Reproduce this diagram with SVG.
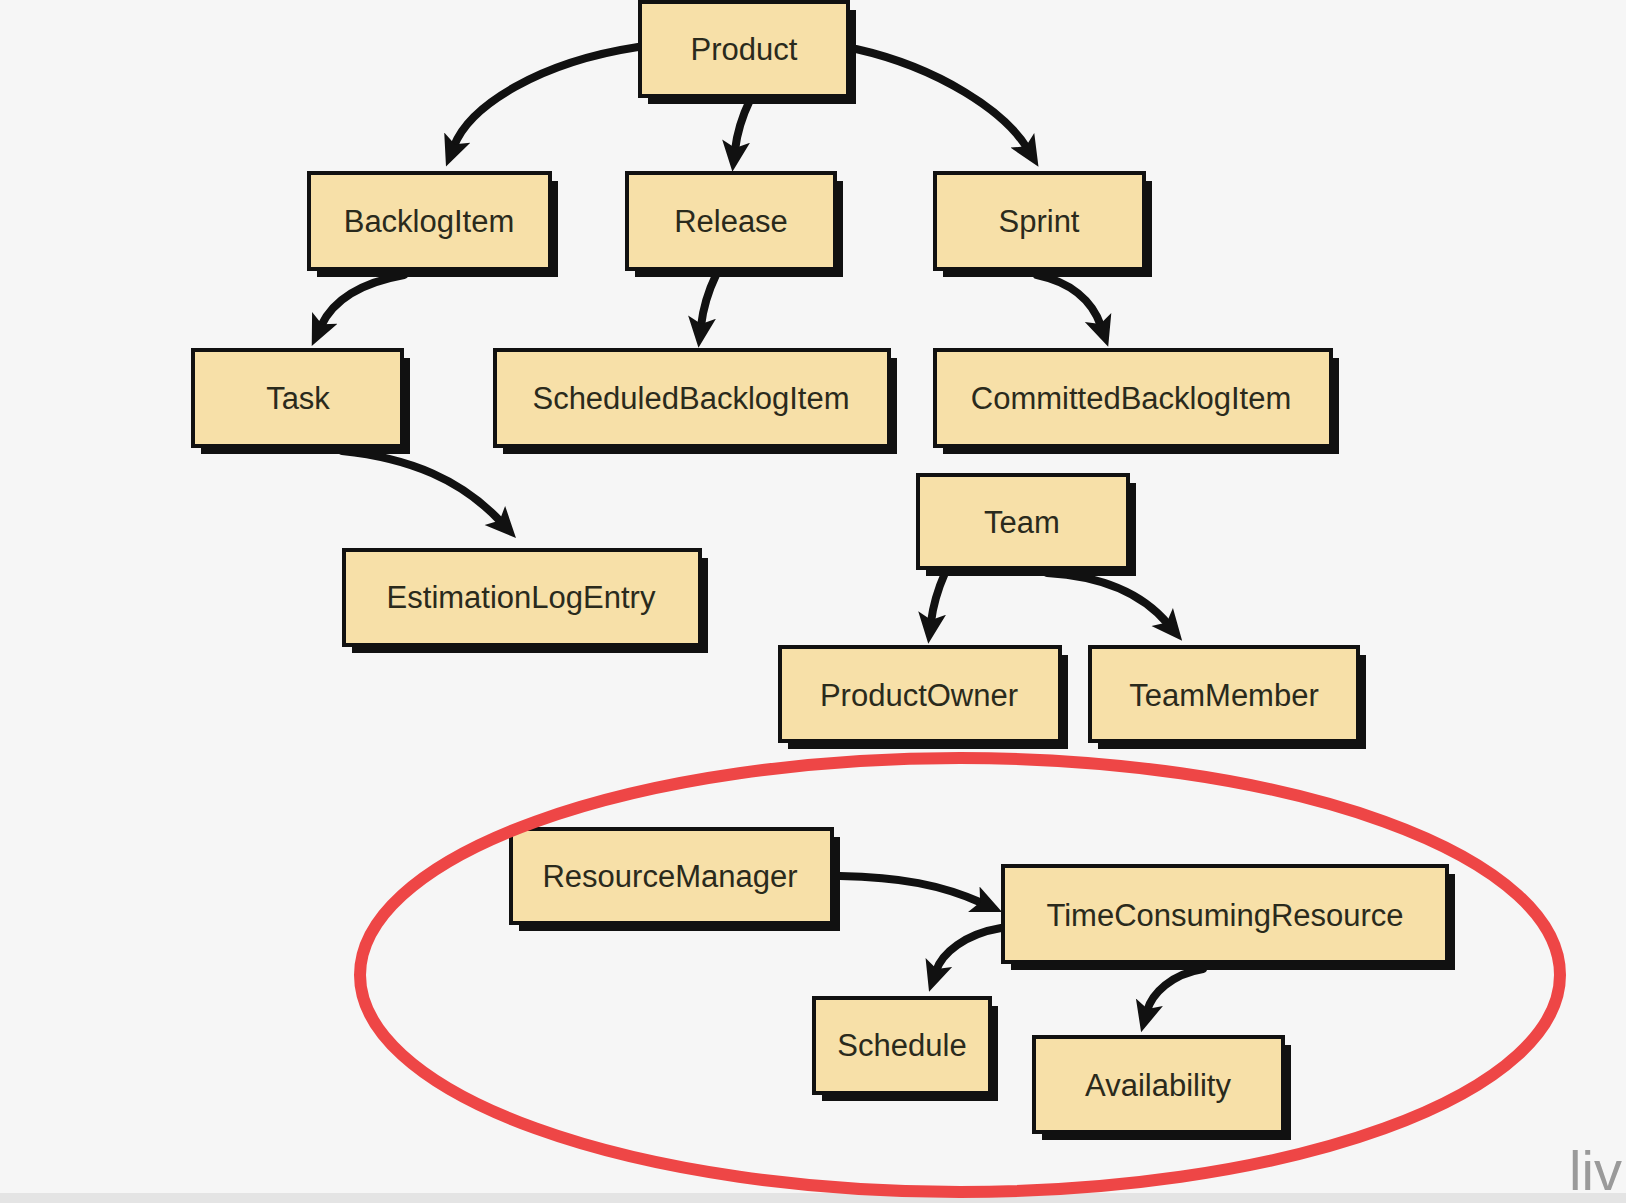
<svg xmlns="http://www.w3.org/2000/svg" width="1626" height="1203" viewBox="0 0 1626 1203">
<defs>
<style>
.sh{fill:#111}
.bx{fill:#f7e0a8;stroke:#111;stroke-width:4}
.t{font-family:"Liberation Sans",Arial,sans-serif;font-size:31px;fill:#2a2a1c;text-anchor:middle;dominant-baseline:central}
.c{fill:none;stroke:#111;stroke-width:8;stroke-linecap:round}
</style>
<marker id="ah" viewBox="0 0 32 32" refX="9" refY="16" markerWidth="32" markerHeight="32" markerUnits="userSpaceOnUse" orient="auto">
<path d="M0,2 L31,16 L0,30 L7,16 Z" fill="#111"/>
</marker>
</defs>
<rect x="0" y="0" width="1626" height="1203" fill="#f6f6f6"/>
<rect x="0" y="1193" width="1626" height="10" fill="#e4e4e4"/>

<g id="connectors">
<path class="c" marker-end="url(#ah)" d="M638 47 C540 62 470 105 454 146"/>
<path class="c" marker-end="url(#ah)" d="M750 100 Q738 125 735 150"/>
<path class="c" marker-end="url(#ah)" d="M856 49 C940 68 1005 112 1027 148"/>
<path class="c" marker-end="url(#ah)" d="M404 275 C365 282 334 298 321 326"/>
<path class="c" marker-end="url(#ah)" d="M716 275 Q704 300 701 326"/>
<path class="c" marker-end="url(#ah)" d="M1037 275 C1070 282 1092 300 1101 326"/>
<path class="c" marker-end="url(#ah)" d="M342 451 C410 458 462 480 501 522"/>
<path class="c" marker-end="url(#ah)" d="M945 573 Q934 598 931 622"/>
<path class="c" marker-end="url(#ah)" d="M1047 573 C1100 576 1142 593 1168 624"/>
<path class="c" marker-end="url(#ah)" d="M840 876 C900 877 942 885 982 903"/>
<path class="c" marker-end="url(#ah)" d="M1001 928 C965 934 942 953 936 971"/>
<path class="c" marker-end="url(#ah)" d="M1203 969 C1172 974 1152 993 1147 1011"/>
</g>

<g id="n-product"><rect class="sh" x="648" y="10" width="208" height="94"/><rect class="bx" x="640" y="2" width="208" height="94"/><text class="t" x="744" y="49">Product</text></g>
<g id="n-backlogitem"><rect class="sh" x="317" y="181" width="241" height="96"/><rect class="bx" x="309" y="173" width="241" height="96"/><text class="t" x="429" y="221">BacklogItem</text></g>
<g id="n-release"><rect class="sh" x="635" y="181" width="208" height="96"/><rect class="bx" x="627" y="173" width="208" height="96"/><text class="t" x="731" y="221">Release</text></g>
<g id="n-sprint"><rect class="sh" x="943" y="181" width="209" height="96"/><rect class="bx" x="935" y="173" width="209" height="96"/><text class="t" x="1039" y="221">Sprint</text></g>
<g id="n-task"><rect class="sh" x="201" y="358" width="209" height="96"/><rect class="bx" x="193" y="350" width="209" height="96"/><text class="t" x="298" y="398">Task</text></g>
<g id="n-scheduledbacklogitem"><rect class="sh" x="503" y="358" width="394" height="96"/><rect class="bx" x="495" y="350" width="394" height="96"/><text class="t" x="691" y="398">ScheduledBacklogItem</text></g>
<g id="n-committedbacklogitem"><rect class="sh" x="943" y="358" width="396" height="96"/><rect class="bx" x="935" y="350" width="396" height="96"/><text class="t" x="1131" y="398">CommittedBacklogItem</text></g>
<g id="n-estimationlogentry"><rect class="sh" x="352" y="558" width="356" height="95"/><rect class="bx" x="344" y="550" width="356" height="95"/><text class="t" x="521" y="597">EstimationLogEntry</text></g>
<g id="n-team"><rect class="sh" x="926" y="483" width="210" height="93"/><rect class="bx" x="918" y="475" width="210" height="93"/><text class="t" x="1022" y="522">Team</text></g>
<g id="n-productowner"><rect class="sh" x="788" y="655" width="280" height="94"/><rect class="bx" x="780" y="647" width="280" height="94"/><text class="t" x="919" y="695">ProductOwner</text></g>
<g id="n-teammember"><rect class="sh" x="1098" y="655" width="268" height="94"/><rect class="bx" x="1090" y="647" width="268" height="94"/><text class="t" x="1224" y="695">TeamMember</text></g>
<g id="n-resourcemanager"><rect class="sh" x="519" y="837" width="321" height="94"/><rect class="bx" x="511" y="829" width="321" height="94"/><text class="t" x="670" y="876">ResourceManager</text></g>
<g id="n-timeconsumingresource"><rect class="sh" x="1011" y="874" width="444" height="96"/><rect class="bx" x="1003" y="866" width="444" height="96"/><text class="t" x="1225" y="915">TimeConsumingResource</text></g>
<g id="n-schedule"><rect class="sh" x="822" y="1006" width="176" height="95"/><rect class="bx" x="814" y="998" width="176" height="95"/><text class="t" x="902" y="1045">Schedule</text></g>
<g id="n-availability"><rect class="sh" x="1042" y="1045" width="249" height="95"/><rect class="bx" x="1034" y="1037" width="249" height="95"/><text class="t" x="1158" y="1085">Availability</text></g>

<ellipse cx="960" cy="975" rx="600" ry="217" fill="none" stroke="#ee4646" stroke-width="12"/>
<text x="1569" y="1190" font-family="'Liberation Sans',Arial,sans-serif" font-size="56" fill="#9a9a9a">liv</text>
</svg>
